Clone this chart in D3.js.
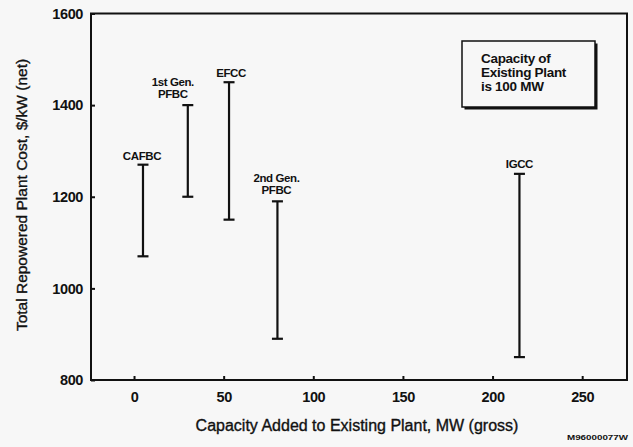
<!DOCTYPE html>
<html><head><meta charset="utf-8">
<script src="https://cdn.jsdelivr.net/npm/d3@7"></script>
<style>
html,body{margin:0;padding:0;background:#f7f7f7;}
svg{display:block;font-family:"Liberation Sans",Arial,sans-serif;}
</style></head>
<body>
<script>
const technologies = ["CAFBC", "1st Gen. PFBC", "EFCC", "2nd Gen. PFBC", "IGCC"];
const capacityAdded = [5, 30, 53, 80, 215];
const costLow = [1070, 1200, 1150, 890, 850];
const costHigh = [1270, 1400, 1450, 1190, 1250];
const xTicks = [0, 50, 100, 150, 200, 250];
const yTicks = [800, 1000, 1200, 1400, 1600];
const noteLines = ["Capacity of", "Existing Plant", "is 100 MW"];

const W = 633, H = 447;
const m = {left: 91, right: 6, top: 13.5, bottom: 67};
const svg = d3.select("body").append("svg").attr("width", W).attr("height", H);

const x = d3.scaleLinear().domain([-24, 275]).range([m.left, W - m.right]);
const y = d3.scaleLinear().domain([800, 1600]).range([H - m.bottom, m.top]);

// frame
svg.append("rect").attr("x", m.left).attr("y", m.top)
  .attr("width", W - m.right - m.left).attr("height", H - m.bottom - m.top)
  .attr("fill", "none").attr("stroke", "#111").attr("stroke-width", 2);

// axes
const xAxis = svg.append("g").attr("transform", `translate(0,${H - m.bottom})`)
  .call(d3.axisBottom(x).tickValues(xTicks).tickFormat(d3.format("d")).tickSizeInner(-4).tickSizeOuter(0).tickPadding(12));
const yAxis = svg.append("g").attr("transform", `translate(${m.left},0)`)
  .call(d3.axisLeft(y).tickValues(yTicks).tickFormat(d3.format("d")).tickSizeInner(-4).tickSizeOuter(0).tickPadding(8));
[xAxis, yAxis].forEach(a => {
  a.select(".domain").remove();
  a.selectAll(".tick line").attr("stroke", "#111").attr("stroke-width", 2);
  a.selectAll(".tick text").attr("fill", "#111").attr("font-size", 14.5).attr("font-weight", "bold")
    .attr("letter-spacing", -0.4)
    .attr("font-family", "'Liberation Sans',Arial,sans-serif");
});

// error bars
const data = technologies.map((t, i) => ({t, x: capacityAdded[i], lo: costLow[i], hi: costHigh[i]}));
const g = svg.append("g").attr("stroke", "#111");
g.selectAll("line.v").data(data).join("line")
  .attr("x1", d => x(d.x)).attr("x2", d => x(d.x))
  .attr("y1", d => y(d.lo)).attr("y2", d => y(d.hi)).attr("stroke-width", 2.2);
g.selectAll("line.top").data(data).join("line")
  .attr("x1", d => x(d.x) - 5.5).attr("x2", d => x(d.x) + 5.5)
  .attr("y1", d => y(d.hi)).attr("y2", d => y(d.hi)).attr("stroke-width", 2.2);
g.selectAll("line.bot").data(data).join("line")
  .attr("x1", d => x(d.x) - 5.5).attr("x2", d => x(d.x) + 5.5)
  .attr("y1", d => y(d.lo)).attr("y2", d => y(d.lo)).attr("stroke-width", 2.2);

// labels
const labelOffsets = [
  {dx: -1, gap: 5, lines: ["CAFBC"]},
  {dx: -15, gap: 7, lines: ["1st Gen.", "PFBC"]},
  {dx: 2, gap: 5, lines: ["EFCC"]},
  {dx: -1, gap: 7, lines: ["2nd Gen.", "PFBC"]},
  {dx: 0, gap: 6, lines: ["IGCC"]}
];
data.forEach((d, i) => {
  const lo = labelOffsets[i];
  const n = lo.lines.length;
  const t = svg.append("text").attr("text-anchor", "middle")
    .attr("font-size", 11.5).attr("font-weight", "bold").attr("fill", "#111")
    .attr("letter-spacing", -0.4);
  lo.lines.forEach((ln, k) => {
    t.append("tspan").attr("x", x(d.x) + lo.dx)
      .attr("y", y(d.hi) - lo.gap - (n - 1 - k) * 12).text(ln);
  });
});

// note box
const bx = 462, by = 41, bw = 133, bh = 66;
svg.append("rect").attr("x", bx + 2.5).attr("y", by + 2.5).attr("width", bw).attr("height", bh)
  .attr("fill", "#111");
svg.append("rect").attr("x", bx).attr("y", by).attr("width", bw).attr("height", bh)
  .attr("fill", "#f7f7f7").attr("stroke", "#111").attr("stroke-width", 1.5);
const nt = svg.append("text").attr("font-size", 13.5).attr("font-weight", "bold").attr("fill", "#111")
  .attr("letter-spacing", -0.3);
noteLines.forEach((ln, k) => nt.append("tspan").attr("x", 481).attr("y", 63 + k * 14).text(ln));

// axis titles
svg.append("text").attr("x", 357).attr("y", 431)
  .attr("text-anchor", "middle").attr("font-size", 16).attr("fill", "#111")
  .attr("stroke", "#111").attr("stroke-width", 0.35)
  .text("Capacity Added to Existing Plant, MW (gross)");
svg.append("text").attr("transform", `translate(27,195) rotate(-90)`)
  .attr("text-anchor", "middle").attr("font-size", 15.5).attr("fill", "#111")
  .attr("stroke", "#111").attr("stroke-width", 0.35)
  .text("Total Repowered Plant Cost, $/kW (net)");

svg.append("text").attr("x", 567).attr("y", 440).attr("textLength", 61).attr("lengthAdjust", "spacingAndGlyphs")
  .attr("font-size", 7).attr("font-weight", "bold").attr("fill", "#111").text("M96000077W");
</script>
</body></html>
